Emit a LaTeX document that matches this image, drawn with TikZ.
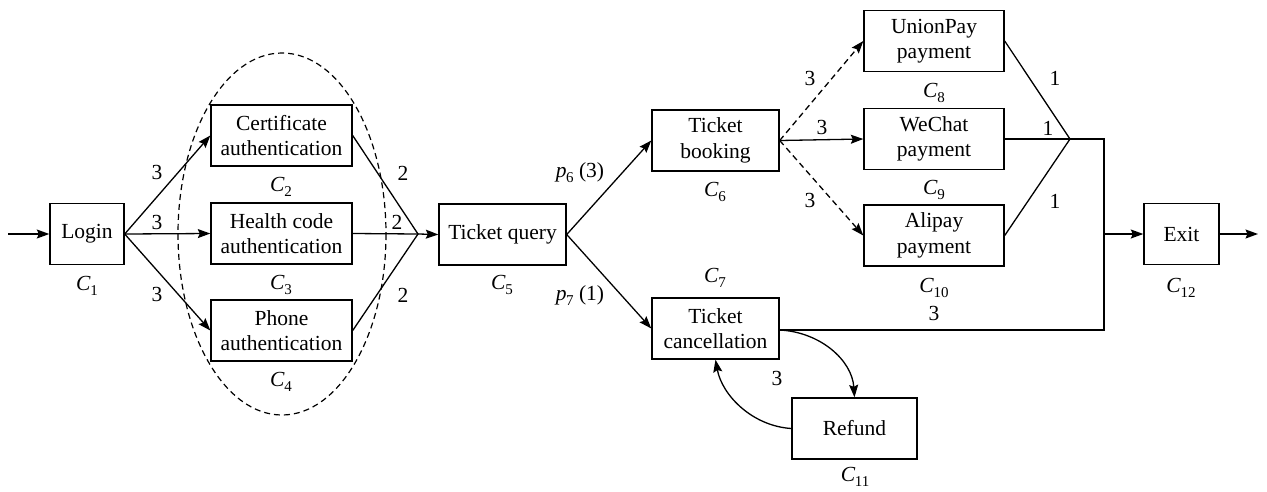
\documentclass[tikz,border=0pt]{standalone}
\usepackage{fontspec}
\setmainfont{Liberation Serif}
\usetikzlibrary{arrows.meta}
\newcommand\cidx[2]{\textit{#1}\kern-0.5pt\raisebox{-5pt}{\fontsize{15}{15}\selectfont #2}}
\begin{document}
\begin{tikzpicture}[x=1pt,y=-1pt,
  font=\fontsize{21.5}{25.5}\selectfont,
  box/.style={draw,line width=1.4pt,minimum height=61pt,inner sep=1pt,align=center},
  lbl/.style={inner sep=0pt},
  link/.style={line width=1.3pt},
  arr/.style={link,-{Stealth[length=12.5pt,width=9pt,inset=2pt]}},
  dsh/.style={dash pattern=on 6pt off 4pt}]
\useasboundingbox (0,0) rectangle (1267,491);

% grouping ellipse around the authentication steps
\draw[line width=1.2pt,dsh] (282,234) ellipse [x radius=104, y radius=181];

% process steps
\node[box,minimum width=141pt] (cert)   at (281.5,135.5) {Certificate\\authentication};
\node[box,minimum width=74pt]  (login)  at (87,234)     {Login};
\node[box,minimum width=141pt] (health) at (281.5,233.5) {Health code\\authentication};
\node[box,minimum width=141pt] (phone)  at (281.5,330.5) {Phone\\authentication};
\node[box,minimum width=127pt] (query)  at (502.5,234.5) {Ticket query};
\node[box,minimum width=127pt] (book)   at (715.5,140.5) {Ticket\\booking};
\node[box,minimum width=127pt] (cancel) at (715.5,328.5) {Ticket\\cancellation};
\node[box,minimum width=140pt] (union)  at (934,41)      {UnionPay\\payment};
\node[box,minimum width=140pt] (wechat) at (934,139)     {WeChat\\payment};
\node[box,minimum width=140pt] (alipay) at (934,235.5)   {Alipay\\payment};
\node[box,minimum width=75pt]  (exit)   at (1181.5,234)  {Exit};
\node[box,minimum width=125pt] (refund) at (854.5,428.5) {Refund};

% step names
\node[lbl] (n1)  at (87,286)   {\cidx{C}{1}};
\node[lbl] (n2)  at (281,187)  {\cidx{C}{2}};
\node[lbl] (n3)  at (281,285)  {\cidx{C}{3}};
\node[lbl] (n4)  at (281,382)  {\cidx{C}{4}};
\node[lbl] (n5)  at (502,285)  {\cidx{C}{5}};
\node[lbl] (n6)  at (715,192)  {\cidx{C}{6}};
\node[lbl] (n7)  at (715,278)  {\cidx{C}{7}};
\node[lbl] (n8)  at (934,93)   {\cidx{C}{8}};
\node[lbl] (n9)  at (934,190)  {\cidx{C}{9}};
\node[lbl] (n10) at (934,288)  {\cidx{C}{10}};
\node[lbl] (n11) at (855,477)  {\cidx{C}{11}};
\node[lbl] (n12) at (1181,288) {\cidx{C}{12}};

% junction points
\coordinate (in)   at (8,234);
\coordinate (out)  at (1258,234);
\coordinate (ja)   at (418,234);
\coordinate (jb)   at (1070,139);
\coordinate (jtop) at (1104,139);
\coordinate (jmid) at (1104,234);
\coordinate (jbot) at (1104,330);

% connectors
\draw[arr] (in) -- (login.west);
\draw[arr] (login.east) -- (cert.west);
\draw[arr] (login.east) -- (health.west);
\draw[arr] (login.east) -- (phone.west);
\draw[link] (cert.east) -- (ja) -- (phone.east);
\draw[link] (health.east) -- (ja);
\draw[arr] (ja) -- (query.west);
\draw[arr] (query.east) -- (book.west);
\draw[arr] (query.east) -- (cancel.west);
\draw[arr,dsh] (book.east) -- (union.west);
\draw[arr] (book.east) -- (wechat.west);
\draw[arr,dsh] (book.east) -- (alipay.west);
\draw[link] (union.east) -- (jb) -- (alipay.east);
\draw[link] (wechat.east) -- (jb) -- (jtop) -- (jbot) -- (cancel.east |- jbot);
\draw[arr] (jmid) -- (exit.west);
\draw[arr] (exit.east) -- (out);
\draw[arr] (cancel.east |- jbot) .. controls (820,332) and (852,360) .. (refund.north);
\draw[arr] (refund.west) .. controls (752,426) and (722,395) .. (cancel.south);

% weights
\node[lbl] (w1) at (157,172) {3};
\node[lbl] (w2) at (157,222) {3};
\node[lbl] (w3) at (157,294) {3};
\node[lbl] (w4) at (403,173) {2};
\node[lbl] (w5) at (397,222) {2};
\node[lbl] (w6) at (403,295) {2};
\node[lbl] (p6) at (580,173) {\cidx{p}{6} (3)};
\node[lbl] (p7) at (580,296) {\cidx{p}{7} (1)};
\node[lbl] (w7) at (810,78)  {3};
\node[lbl] (w8) at (822,127) {3};
\node[lbl] (w9) at (810,200) {3};
\node[lbl] (w10) at (1055,78)  {1};
\node[lbl] (w11) at (1048,128) {1};
\node[lbl] (w12) at (1055,201) {1};
\node[lbl] (w13) at (934,313) {3};
\node[lbl] (w14) at (777,378) {3};
\end{tikzpicture}
\end{document}
